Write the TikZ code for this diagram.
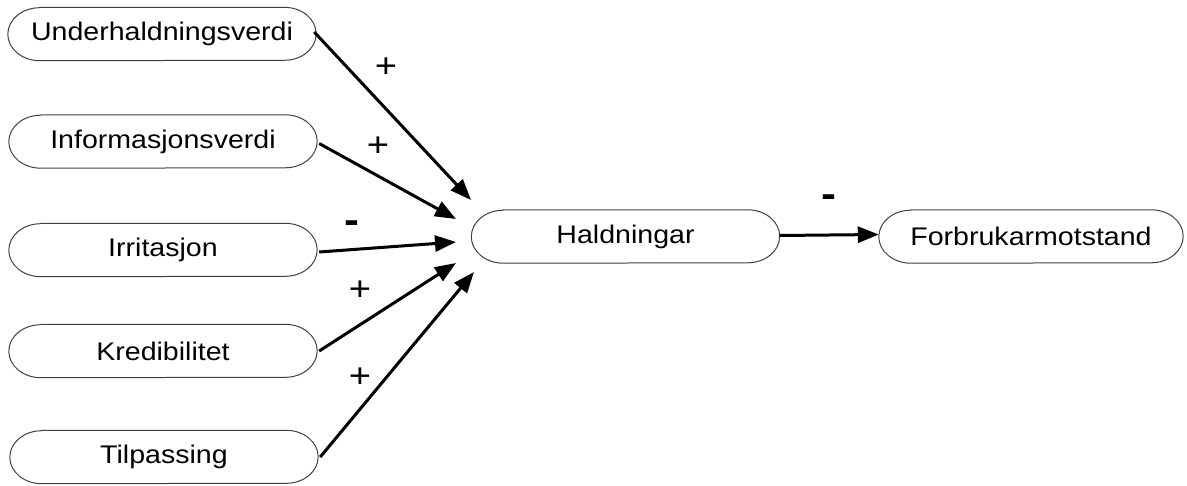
\documentclass[tikz,border=0pt]{standalone}
\usepackage{fontspec}
\setmainfont{Liberation Sans}[FakeStretch=1.12]
\usetikzlibrary{arrows.meta}
\tikzset{
  box/.style={draw=none, minimum width=308pt, minimum height=53pt, inner sep=0pt,
    font=\fontsize{25.5}{30}\selectfont},
  pillline/.style={draw=black!75, line width=1pt},
  conn/.style={line width=3pt, -{Triangle[length=21pt,width=16pt]}},
  sign/.style={font=\fontsize{34}{38}\selectfont},
  minus/.style={font=\fontsize{40}{44}\selectfont\bfseries},
}
\newcommand\pilloutline[1]{%
  \draw[pillline] ([xshift=32pt]#1.north west) -- ([xshift=-32pt]#1.north east)
    arc[start angle=90,end angle=-90,x radius=32pt,y radius=26.5pt]
    -- ([xshift=32pt]#1.south west)
    arc[start angle=270,end angle=90,x radius=32pt,y radius=26.5pt] -- cycle;}
\begin{document}
\begin{tikzpicture}[x=1pt,y=-1pt]
\useasboundingbox (0,0) rectangle (1187,485);
\node[box] (u) at (162,34) {Underhaldningsverdi};
\node[box] (inf) at (163,141.5) {Informasjonsverdi};
\node[box] (irr) at (163,250) {Irritasjon};
\node[box] (kre) at (163,351) {Kredibilitet};
\node[box] (til) at (164,457) {Tilpassing};
\node[box] (hal) at (625.5,236.5) {Haldningar};
\node[box, minimum width=304pt] (for) at (1031,236.5) {Forbrukarmotstand};
\foreach \n in {u,inf,irr,kre,til,hal,for} {\pilloutline{\n}}
\coordinate (t1) at (471,200);
\coordinate (t2) at (456,219);
\coordinate (t3) at (456,242);
\coordinate (t4) at (456,263);
\coordinate (t5) at (474,272);
\draw[conn] ([xshift=-2pt,yshift=2pt]u.east) -- (t1);
\draw[conn] ([xshift=2pt,yshift=-2pt]inf.east) -- (t2);
\draw[conn] ([xshift=2pt,yshift=-2pt]irr.east) -- (t3);
\draw[conn] ([xshift=2pt,yshift=0pt]kre.east) -- (t4);
\draw[conn] ([xshift=2pt,yshift=0pt]til.east) -- (t5);
\draw[conn] ([yshift=1pt]hal.east) -- ([yshift=2pt]for.west);
\node[sign] (s1) at (386,68) {+};
\node[sign] (s2) at (378,147) {+};
\node[minus] (s3) at (352,227) {-};
\node[sign] (s4) at (360,291) {+};
\node[sign] (s5) at (360,378) {+};
\node[minus] (s6) at (829,201) {-};
\end{tikzpicture}
\end{document}
